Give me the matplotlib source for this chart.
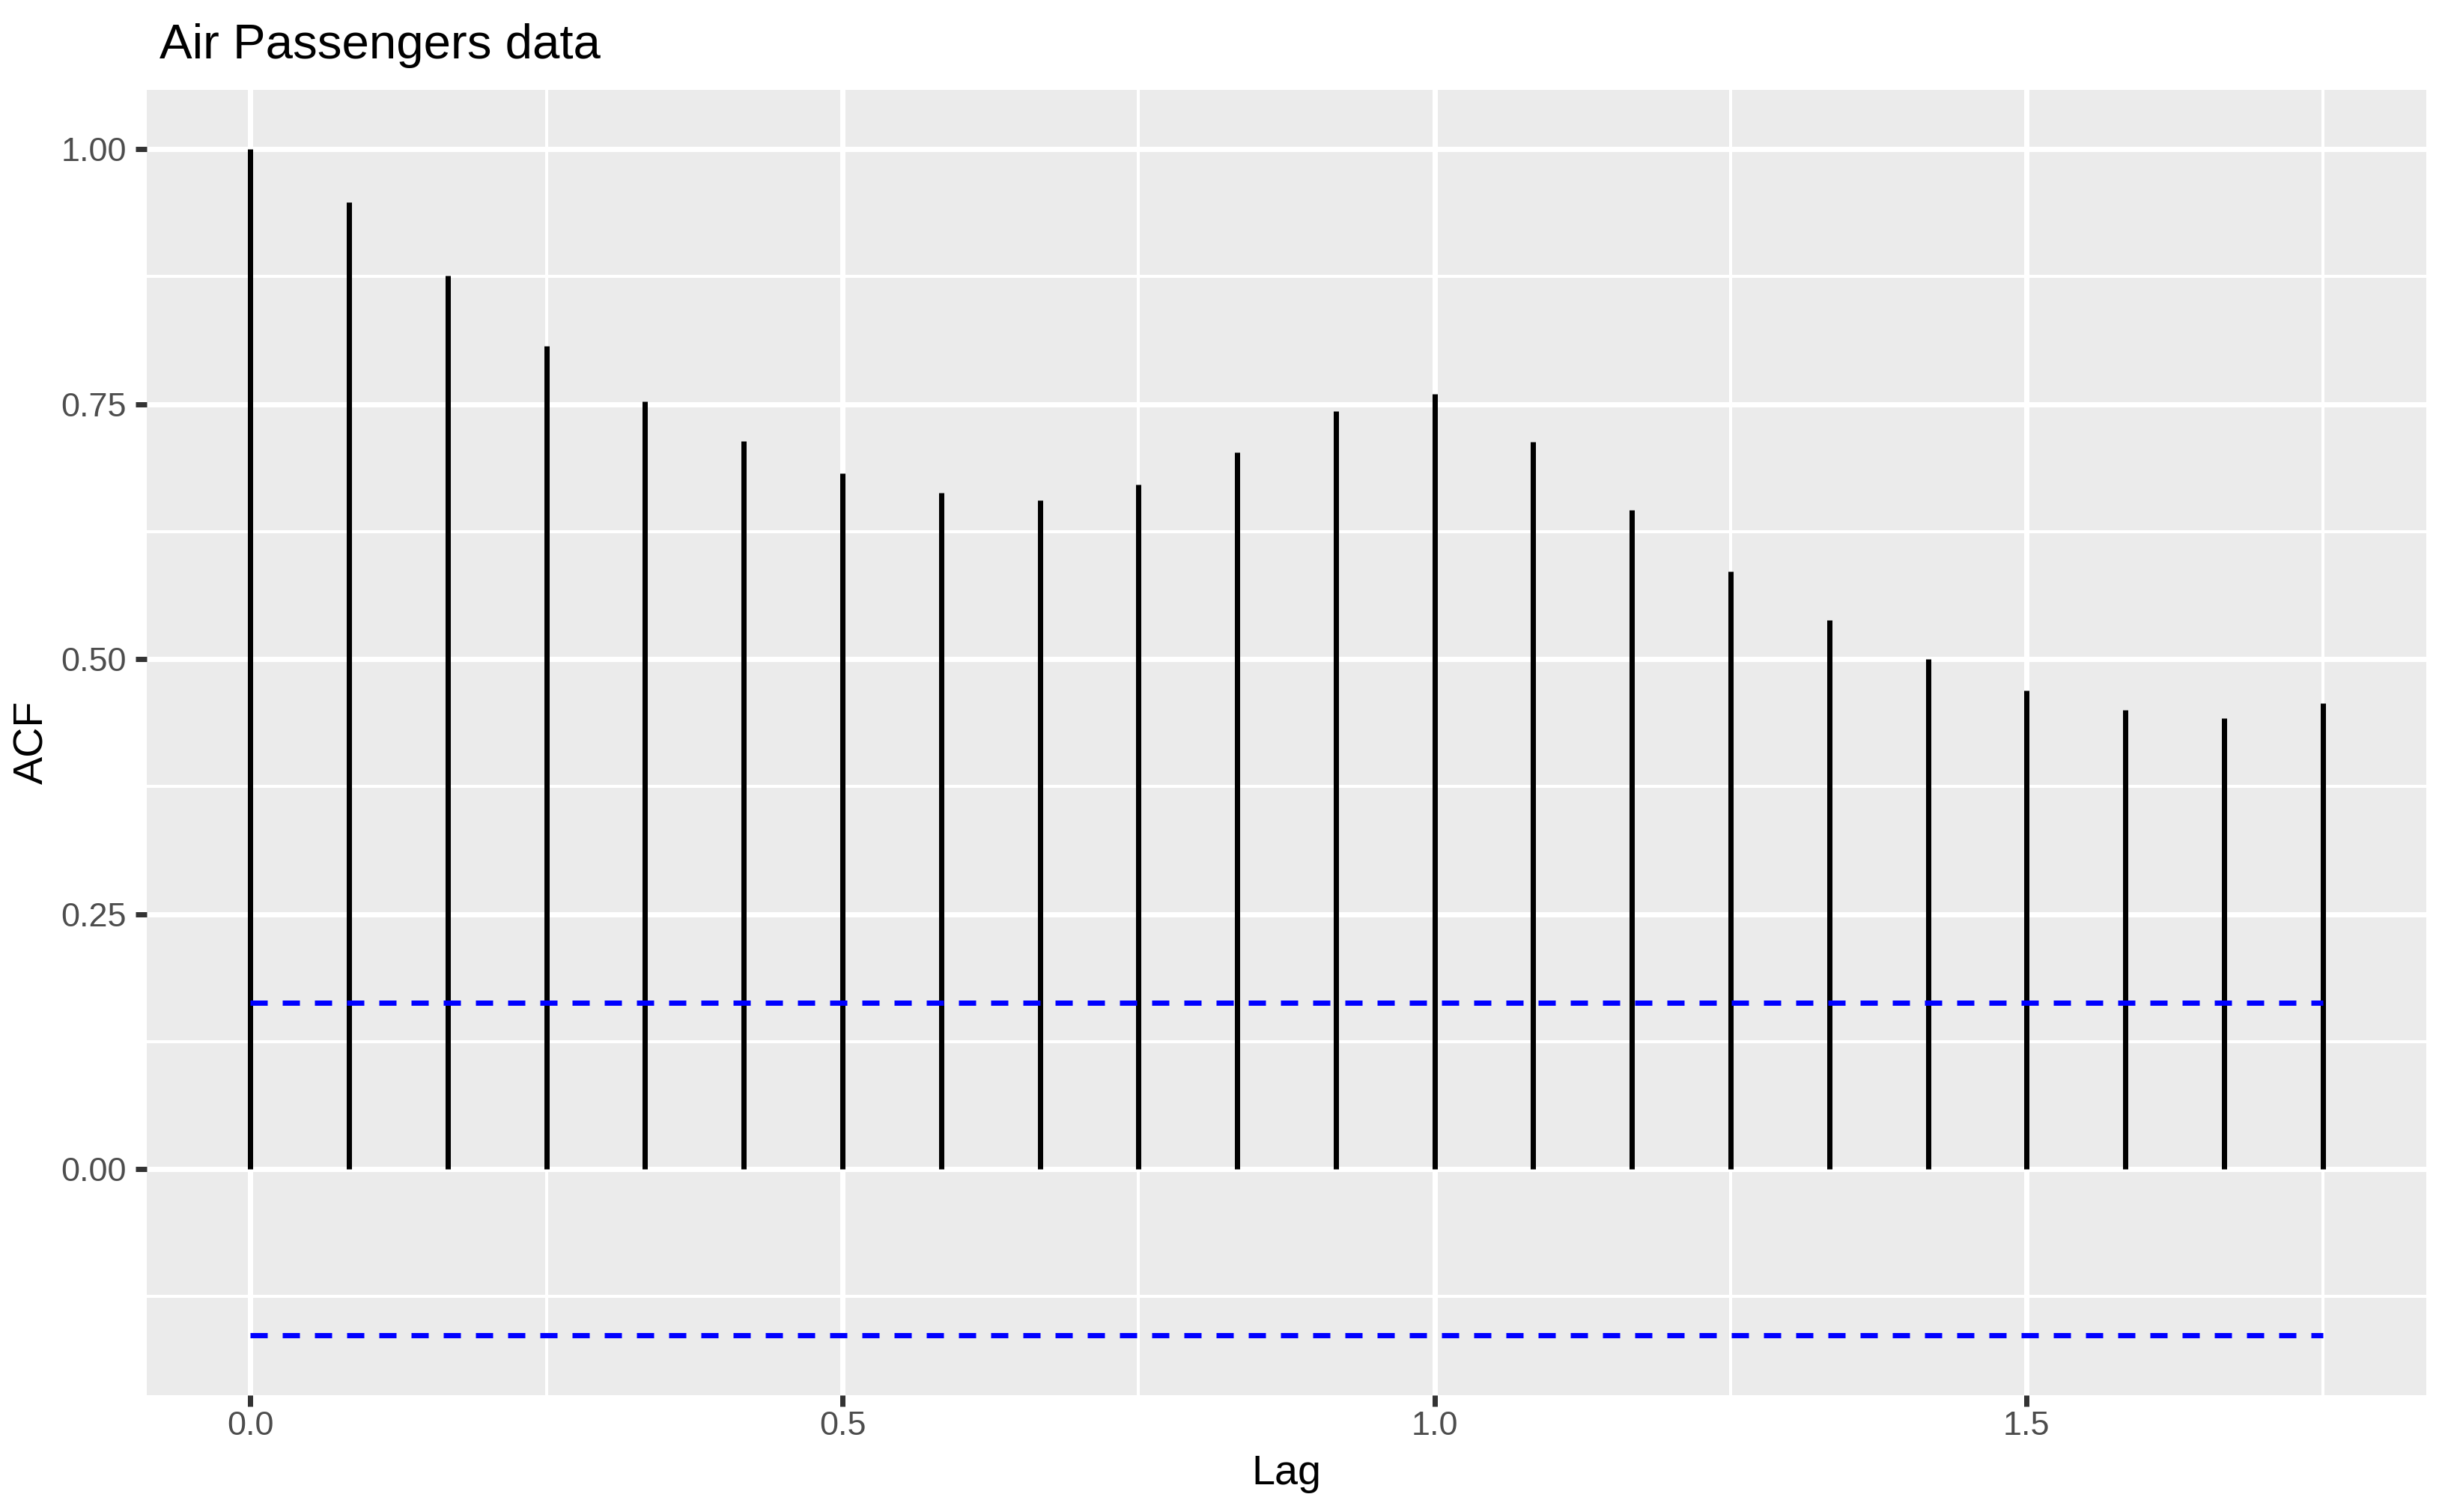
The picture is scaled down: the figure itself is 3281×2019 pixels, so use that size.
import numpy as np
import matplotlib
matplotlib.use("Agg")
import matplotlib.pyplot as plt

# ---- data ----
lags = np.arange(22) / 12.0
acf_values = [1.000, 0.948, 0.876, 0.807, 0.753, 0.714, 0.682, 0.663, 0.656, 0.671,
              0.703, 0.743, 0.760, 0.713, 0.646, 0.586, 0.538, 0.500, 0.469, 0.450,
              0.442, 0.457]
conf_bound = 1.96 / np.sqrt(144)
x_ticks = [0.0, 0.5, 1.0, 1.5]
x_tick_labels = ["0.0", "0.5", "1.0", "1.5"]
y_ticks = [0.0, 0.25, 0.5, 0.75, 1.0]
y_tick_labels = ["0.00", "0.25", "0.50", "0.75", "1.00"]
title = "Air Passengers data"

W, H, DPI = 3281, 2019, 300
px = 72.0 / DPI  # points per pixel

plt.rcParams['font.family'] = ['Liberation Sans', 'DejaVu Sans']

fig = plt.figure(figsize=(W / DPI, H / DPI), dpi=DPI)
left, right, top, bottom = 196, 3240, 120, 1862.7
ax = fig.add_axes([left / W, 1 - bottom / H, (right - left) / W, (bottom - top) / H])
ax.set_facecolor("#EBEBEB")
for s in ax.spines.values():
    s.set_visible(False)

# limits with ggplot-like 5% expansion
xmin, xmax = 0.0, lags[-1]
xr = xmax - xmin
ax.set_xlim(xmin - 0.05 * xr, xmax + 0.05 * xr)
ymin, ymax = -conf_bound, max(acf_values)
yr = ymax - ymin
ax.set_ylim(ymin - 0.05 * yr, ymax + 0.05 * yr)

# grid
ax.set_xticks(x_ticks)
ax.set_xticklabels(x_tick_labels)
ax.set_yticks(y_ticks)
ax.set_yticklabels(y_tick_labels)
ax.set_xticks([0.25, 0.75, 1.25, 1.75], minor=True)
ax.set_yticks([-0.125, 0.125, 0.375, 0.625, 0.875], minor=True)
ax.grid(which="major", color="white", linewidth=7 * px)
ax.grid(which="minor", color="white", linewidth=4 * px)
ax.set_axisbelow(True)

ax.tick_params(which="major", length=15 * px, width=7 * px, color="#333333",
               labelcolor="#4D4D4D", labelsize=10.8)
ax.tick_params(axis="y", which="major", pad=12 * px)
ax.tick_params(axis="x", which="major", pad=6 * px)
ax.tick_params(which="minor", length=0)

# stems
stems = ax.vlines(lags, 0, acf_values, colors="black", linewidth=7 * px)
stems.set_capstyle("butt")

# confidence bounds
lw = 7 * px
for c in (conf_bound, -conf_bound):
    ax.plot([0.0, lags[-1]], [c, c], color="#0000FF", linewidth=lw,
            linestyle=(0, (23 / 7, 20 / 7)), solid_capstyle="butt",
            dash_capstyle="butt")

# texts
fig.text(213 / W, 1 - 77.7 / H, title, fontsize=15.7, color="black",
         ha="left", va="baseline")
fig.text((left + right) / 2 / W, 1 - 1981.7 / H, "Lag", fontsize=13.4,
         color="black", ha="center", va="baseline")
fig.text(43 / W, 1 - ((top + bottom) / 2) / H, "ACF", fontsize=13.4,
         color="black", ha="center", va="center", rotation=90)

fig.savefig("out.png", dpi=DPI, facecolor="white")
